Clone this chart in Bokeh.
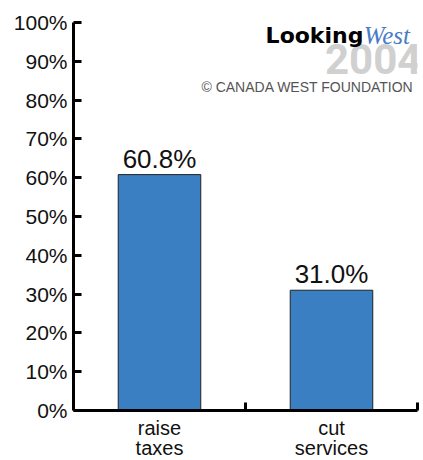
from bokeh.plotting import figure
from bokeh.models import (ColumnDataSource, Range1d, FixedTicker, PrintfTickFormatter,
                          LabelSet, Label)
from bokeh.core.properties import value
from bokeh.embed import file_html
from bokeh.resources import INLINE

categories = ["raise\ntaxes", "cut\nservices"]
values = [60.8, 31.0]
value_labels = ["60.8%", "31.0%"]
y_ticks = [0, 10, 20, 30, 40, 50, 60, 70, 80, 90, 100]

FONT = "Liberation Sans"
BAR_COLOR = "#3a7fc1"

xs = [i + 0.5 for i in range(len(categories))]
source = ColumnDataSource(data=dict(x=xs, top=values, label=value_labels))

p = figure(frame_width=344, frame_height=388,
           x_range=Range1d(0, len(categories)), y_range=Range1d(0, 100),
           output_backend="svg", toolbar_location=None,
           min_border_left=73, min_border_right=6, min_border_top=22,
           min_border_bottom=50)
p.outline_line_color = None
p.xgrid.visible = False
p.ygrid.visible = False
p.background_fill_color = "white"
p.border_fill_color = "white"

p.vbar(x="x", top="top", width=0.48, source=source,
       fill_color=BAR_COLOR, line_color="#222222", line_width=1)

labels = LabelSet(x="x", y="top", text="label", source=source,
                  text_align="center", text_baseline="alphabetic", y_offset=7,
                  text_font=value(FONT), text_font_size="26px", text_color="#111111")
p.add_layout(labels)

# axes
xa = p.xaxis[0]
xa.ticker = FixedTicker(ticks=xs, minor_ticks=[float(i) for i in range(1, len(categories) + 1)])
xa.major_label_overrides = {x: c for x, c in zip(xs, categories)}
xa.major_tick_line_color = None
xa.minor_tick_in = 8
xa.minor_tick_out = 0
xa.minor_tick_line_width = 3
xa.minor_tick_line_color = "black"
xa.axis_line_width = 3
xa.axis_line_color = "black"
xa.major_label_text_font = FONT
xa.major_label_text_font_size = "20px"
xa.major_label_text_line_height = 0.95
xa.major_label_text_color = "#111111"
xa.major_label_standoff = 0

ya = p.yaxis[0]
ya.ticker = FixedTicker(ticks=y_ticks)
ya.formatter = PrintfTickFormatter(format="%d%%")
ya.major_tick_in = 8
ya.major_tick_out = 0
ya.major_tick_line_width = 3
ya.major_tick_line_color = "black"
ya.minor_tick_line_color = None
ya.axis_line_width = 3
ya.axis_line_color = "black"
ya.major_label_text_font = FONT
ya.major_label_text_font_size = "21px"
ya.major_label_text_color = "#111111"
ya.major_label_standoff = 6

# watermark (kept fully inside the page)
p.add_layout(Label(x=1.462, y=90.6, text="2004", text_font="Roboto",
                   text_font_style="bold", text_font_size="42px",
                   text_color="#d0d0d0", text_baseline="alphabetic"))
p.add_layout(Label(x=1.117, y=96.7, text="Looking", text_font="DejaVu Sans",
                   text_font_style="bold", text_font_size="22px",
                   text_color="black", text_baseline="alphabetic"))
p.add_layout(Label(x=1.687, y=96.7, text="West", text_font="Liberation Serif",
                   text_font_style="italic", text_font_size="25px",
                   text_color="#4a7cc4", text_baseline="alphabetic"))
p.add_layout(Label(x=0.744, y=83.4, text="© CANADA WEST FOUNDATION", text_font=FONT,
                   text_font_size="14px", text_color="#555555",
                   text_baseline="alphabetic"))

open("out.html", "w").write(file_html(p, INLINE))
